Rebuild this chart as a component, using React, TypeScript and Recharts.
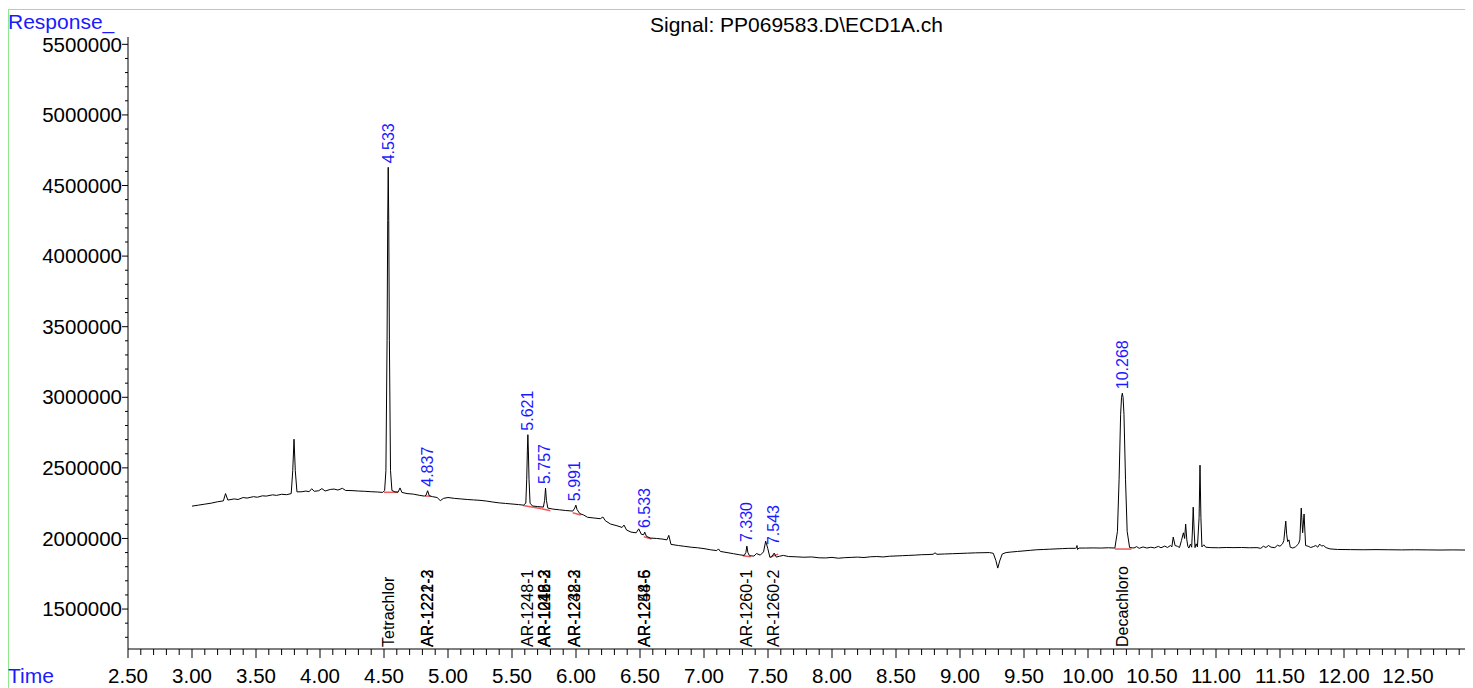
import React from "react";
import { ComposedChart, Line, Scatter, XAxis, YAxis, ReferenceLine } from "recharts";

const FONT = '"Liberation Sans", Arial, sans-serif';
const BLUE = "#1a1aff";

// signal trace, [retention time (min), response]
const trace3to45: [number, number][] = [
  [3.0, 2229000], [3.05, 2236000], [3.1, 2243000], [3.15, 2250000], [3.2, 2260000],
  [3.245, 2266000], [3.262, 2318000], [3.28, 2272000], [3.33, 2280000], [3.36, 2276000],
  [3.4, 2290000], [3.43, 2286000], [3.48, 2296000], [3.51, 2292000], [3.55, 2302000],
  [3.58, 2300000], [3.63, 2309000], [3.66, 2305000], [3.7, 2313000], [3.74, 2310000],
  [3.775, 2318000], [3.787, 2480000], [3.797, 2703000], [3.807, 2480000], [3.82, 2330000],
  [3.86, 2331000], [3.89, 2336000], [3.915, 2331000], [3.935, 2352000], [3.955, 2334000],
  [3.99, 2338000], [4.015, 2353000], [4.04, 2336000], [4.08, 2347000], [4.11, 2350000],
  [4.14, 2343000], [4.175, 2355000], [4.2, 2340000], [4.25, 2339000], [4.3, 2336000],
  [4.35, 2334000], [4.4, 2331000], [4.45, 2329000], [4.49, 2326000],
];

const trace45to6: [number, number][] = [
  [4.505, 2340000], [4.515, 2480000], [4.524, 3400000], [4.529, 4250000], [4.533, 4629000],
  [4.537, 4250000], [4.542, 3400000], [4.551, 2480000], [4.562, 2340000], [4.585, 2330000],
  [4.61, 2328000], [4.625, 2358000], [4.64, 2326000], [4.68, 2318000], [4.73, 2314000],
  [4.78, 2305000], [4.815, 2300000], [4.828, 2306000], [4.841, 2338000], [4.854, 2302000],
  [4.88, 2296000], [4.915, 2290000], [4.94, 2268000], [4.965, 2284000], [5.0, 2290000],
  [5.05, 2284000], [5.1, 2280000], [5.15, 2276000], [5.2, 2273000], [5.25, 2270000],
  [5.3, 2265000], [5.35, 2258000], [5.4, 2252000], [5.45, 2248000], [5.5, 2244000],
  [5.55, 2240000], [5.59, 2236000], [5.608, 2250000], [5.615, 2420000], [5.62, 2620000],
  [5.624, 2735000], [5.628, 2620000], [5.633, 2420000], [5.641, 2250000], [5.66, 2230000],
  [5.7, 2226000], [5.745, 2222000], [5.755, 2270000], [5.762, 2357000], [5.769, 2270000],
  [5.78, 2215000], [5.82, 2208000], [5.87, 2203000], [5.92, 2198000], [5.975, 2194000],
  [5.99, 2215000], [5.999, 2236000], [6.008, 2205000], [6.03, 2176000],
];

const trace6to8: [number, number][] = [
  [6.06, 2166000], [6.09, 2150000], [6.14, 2145000], [6.19, 2140000], [6.21, 2152000],
  [6.23, 2125000], [6.27, 2102000], [6.32, 2090000], [6.36, 2078000], [6.375, 2095000],
  [6.395, 2060000], [6.43, 2045000], [6.47, 2040000], [6.49, 2068000], [6.51, 2030000],
  [6.528, 2026000], [6.537, 2045000], [6.55, 2015000], [6.58, 2003000], [6.63, 2000000],
  [6.68, 1995000], [6.71, 1990000], [6.725, 2022000], [6.742, 1958000], [6.8, 1950000],
  [6.85, 1944000], [6.9, 1938000], [6.95, 1934000], [7.0, 1928000], [7.05, 1920000],
  [7.1, 1914000], [7.113, 1926000], [7.128, 1908000], [7.18, 1900000], [7.23, 1892000],
  [7.28, 1884000], [7.315, 1880000], [7.327, 1900000], [7.335, 1946000], [7.343, 1900000],
  [7.355, 1878000], [7.39, 1875000], [7.41, 1893000], [7.44, 1882000], [7.465, 1905000],
  [7.482, 1981000], [7.498, 1930000], [7.515, 1866000], [7.53, 1870000], [7.548, 1896000],
  [7.565, 1868000], [7.59, 1874000], [7.62, 1880000], [7.66, 1872000], [7.72, 1870000],
  [7.78, 1867000], [7.84, 1869000], [7.9, 1863000], [7.95, 1862000],
];

const trace8to10: [number, number][] = [
  [8.0, 1866000], [8.05, 1860000], [8.1, 1864000], [8.15, 1866000], [8.2, 1868000],
  [8.25, 1865000], [8.3, 1870000], [8.35, 1872000], [8.4, 1869000], [8.45, 1874000],
  [8.5, 1876000], [8.55, 1878000], [8.6, 1880000], [8.65, 1882000], [8.7, 1885000],
  [8.75, 1886000], [8.79, 1888000], [8.805, 1898000], [8.82, 1888000], [8.88, 1890000],
  [8.94, 1892000], [9.0, 1894000], [9.06, 1896000], [9.12, 1898000], [9.18, 1899000],
  [9.23, 1900000], [9.26, 1895000], [9.28, 1845000], [9.295, 1790000], [9.31, 1840000],
  [9.33, 1890000], [9.36, 1900000], [9.4, 1904000], [9.45, 1908000], [9.5, 1912000],
  [9.55, 1916000], [9.6, 1920000], [9.65, 1922000], [9.7, 1924000], [9.75, 1926000],
  [9.8, 1928000], [9.85, 1930000], [9.9, 1930000], [9.91, 1935000], [9.914, 1950000],
  [9.918, 1922000], [9.93, 1932000], [9.98, 1932000], [10.04, 1933000], [10.1, 1932000],
  [10.16, 1934000], [10.21, 1932000], [10.23, 2050000], [10.243, 2420000], [10.255, 2880000],
  [10.262, 3000000], [10.268, 3029000], [10.274, 3000000], [10.281, 2880000], [10.293, 2420000],
  [10.306, 2050000], [10.325, 1936000], [10.35, 1933000],
];

const trace10to13: [number, number][] = [
  [10.36, 1933000], [10.38, 1942000], [10.4, 1930000], [10.43, 1940000], [10.46, 1932000],
  [10.49, 1938000], [10.52, 1933000], [10.55, 1944000], [10.57, 1934000], [10.6, 1946000],
  [10.62, 1936000], [10.645, 1950000], [10.655, 1940000], [10.666, 2010000], [10.68, 1950000],
  [10.7, 1944000], [10.715, 1936000], [10.73, 1985000], [10.745, 2040000], [10.755, 2000000],
  [10.763, 2102000], [10.772, 1990000], [10.78, 1945000], [10.788, 1932000], [10.8, 1960000],
  [10.81, 1938000], [10.816, 2060000], [10.822, 2222000], [10.829, 2060000], [10.836, 1935000],
  [10.845, 1962000], [10.855, 1940000], [10.868, 2150000], [10.875, 2519000], [10.882, 2150000],
  [10.89, 1940000], [10.905, 1955000], [10.92, 1938000], [10.96, 1935000], [11.02, 1934000],
  [11.08, 1936000], [11.14, 1935000], [11.2, 1936000], [11.26, 1934000], [11.32, 1935000],
  [11.35, 1930000], [11.37, 1945000], [11.39, 1936000], [11.41, 1950000], [11.43, 1938000],
  [11.46, 1935000], [11.48, 1952000], [11.5, 1945000], [11.52, 1962000], [11.53, 1985000],
  [11.538, 2060000], [11.545, 2123000], [11.552, 2030000], [11.56, 1978000], [11.57, 1990000],
  [11.58, 1938000], [11.6, 1932000], [11.62, 1940000], [11.645, 1962000], [11.655, 1990000],
  [11.666, 2215000], [11.677, 2040000], [11.688, 2173000], [11.7, 1950000], [11.72, 1945000],
  [11.74, 1936000], [11.76, 1942000], [11.78, 1950000], [11.795, 1938000], [11.81, 1960000],
  [11.825, 1946000], [11.84, 1950000], [11.86, 1935000], [11.89, 1926000], [11.95, 1922000],
  [12.05, 1921000], [12.15, 1920000], [12.25, 1921000], [12.35, 1920000], [12.45, 1919000],
  [12.55, 1920000], [12.65, 1919000], [12.75, 1918000], [12.85, 1919000], [12.95, 1918000],
  [13.0, 1918000],
];

// integrated peaks: retention time label and apex response
const peakTimes = [4.533, 4.837, 5.621, 5.757, 5.991, 6.533, 7.33, 7.543, 10.268];
const peakTops = [4629000, 2338000, 2735000, 2357000, 2236000, 2045000, 1946000, 1925000, 3029000];

// compound names printed at the foot of each peak (several overlap at one time)
const compoundTimes = [4.533, 4.837, 5.621, 5.757, 5.991, 6.533, 7.33, 7.543, 10.268];
const compoundNames = [
  ["Tetrachlor"],
  ["AR-1221-3", "AR-1222-2"],
  ["AR-1248-1"],
  ["AR-1016-2", "AR-1242-3", "AR-1248-2"],
  ["AR-1232-3", "AR-1248-2"],
  ["AR-1248-5", "AR-1254-6"],
  ["AR-1260-1"],
  ["AR-1260-2"],
  ["Decachloro"],
];

// integration baselines: [start t, start response, end t, end response]
const baselines: [number, number, number, number][] = [
  [4.5, 2327000, 4.61, 2327000],
  [4.82, 2300000, 4.865, 2300000],
  [5.588, 2234000, 5.732, 2210000],
  [5.732, 2210000, 5.8, 2196000],
  [5.974, 2182000, 6.037, 2166000],
  [6.53, 2012000, 6.59, 1996000],
  [7.302, 1878000, 7.365, 1871000],
  [7.521, 1871000, 7.58, 1889000],
  [10.21, 1925000, 10.34, 1925000],
];

const xMajorTicks = [2.5, 3, 3.5, 4, 4.5, 5, 5.5, 6, 6.5, 7, 7.5, 8, 8.5, 9, 9.5, 10, 10.5, 11, 11.5, 12, 12.5];
const yMajorTicks = [1500000, 2000000, 2500000, 3000000, 3500000, 4000000, 4500000, 5000000, 5500000];

const X_DOMAIN: [number, number] = [2.5, 13.0];
const Y_DOMAIN: [number, number] = [1217000, 5552000];

const xTicks = Array.from({ length: 105 }, (_, i) => Math.round(25 + i) / 10);
const yTicks = Array.from({ length: 43 }, (_, i) => 1300000 + i * 100000);

const traceRows = [...trace3to45, ...trace45to6, ...trace6to8, ...trace8to10, ...trace10to13].map(
  ([t, v]) => ({ t, v })
);
const peakRows = peakTimes.map((t, i) => ({ t, v: peakTops[i], label: t.toFixed(3) }));
const compoundRows = compoundTimes.map((t, i) => ({ t, v: Y_DOMAIN[0], names: compoundNames[i] }));

function XTick(props: any) {
  const { x, y, payload } = props;
  const major = xMajorTicks.includes(payload.value);
  return (
    <g>
      <line x1={x} x2={x} y1={y} y2={y + (major ? 9 : 6)} stroke="#000" />
      {major && (
        <text x={x} y={y + 34} textAnchor="middle" fontSize={20.5} fontFamily={FONT} fill="#000">
          {payload.value.toFixed(2)}
        </text>
      )}
    </g>
  );
}

function YTick(props: any) {
  const { x, y, payload } = props;
  const major = yMajorTicks.includes(payload.value);
  return (
    <g>
      <line x1={x - (major ? 6 : 3)} x2={x} y1={y} y2={y} stroke="#000" />
      {major && (
        <text x={x - 6} y={y} dy="0.35em" textAnchor="end" fontSize={20.5} fontFamily={FONT} fill="#000">
          {payload.value}
        </text>
      )}
    </g>
  );
}

function PeakLabel(props: any) {
  const { cx, cy, payload } = props;
  const y = cy - 4;
  return (
    <text
      x={cx}
      y={y}
      dy="0.35em"
      transform={`rotate(-90 ${cx} ${y})`}
      fontSize={16}
      fontFamily={FONT}
      fill={BLUE}
    >
      {payload.label}
    </text>
  );
}

function CompoundLabel(props: any) {
  const { cx, cy, payload } = props;
  const y = cy - 2;
  return (
    <g>
      {payload.names.map((name: string) => (
        <text
          key={name}
          x={cx}
          y={y}
          dy="0.35em"
          transform={`rotate(-90 ${cx} ${y})`}
          fontSize={16}
          fontFamily={FONT}
          fill="#000"
        >
          {name}
        </text>
      ))}
    </g>
  );
}

export default function App() {
  return (
    <div style={{ position: "relative", width: 1465, height: 680, fontFamily: FONT }}>
      <div
        style={{
          position: "absolute",
          top: 1,
          left: 0,
          right: 0,
          bottom: 0,
          borderTop: "1px solid #8ee88e",
          borderLeft: "1px solid #8ee88e",
        }}
      />
      <ComposedChart
        width={1465}
        height={680}
        data={traceRows}
        margin={{ top: 29, right: 1, bottom: 0, left: 0 }}
      >
        <XAxis
          dataKey="t"
          type="number"
          domain={X_DOMAIN}
          ticks={xTicks}
          interval={0}
          height={39}
          tickSize={0}
          tickMargin={0}
          tickLine={false}
          axisLine={{ stroke: "#000" }}
          tick={XTick}
          allowDataOverflow
        />
        <YAxis
          type="number"
          domain={Y_DOMAIN}
          ticks={yTicks}
          interval={0}
          width={120}
          tickSize={0}
          tickMargin={0}
          tickLine={false}
          axisLine={{ stroke: "#000" }}
          tick={YTick}
          allowDataOverflow
        />
        {baselines.map(([t1, v1, t2, v2], i) => (
          <ReferenceLine
            key={i}
            segment={[{ x: t1, y: v1 }, { x: t2, y: v2 }]}
            stroke="#f05a5a"
            strokeWidth={1.5}
            ifOverflow="visible"
          />
        ))}
        <Line
          type="linear"
          dataKey="v"
          stroke="#000"
          strokeWidth={1}
          dot={false}
          isAnimationActive={false}
        />
        <Scatter data={peakRows} dataKey="v" shape={PeakLabel} isAnimationActive={false} />
        <Scatter data={compoundRows} dataKey="v" shape={CompoundLabel} isAnimationActive={false} />
      </ComposedChart>
      <svg
        width={1465}
        height={680}
        style={{ position: "absolute", top: 0, left: 0, pointerEvents: "none" }}
      >
        <text x={0} y={21} fontSize={21} fontFamily={FONT} fill={BLUE}>
          Response_
        </text>
        <text x={642} y={24} fontSize={21} fontFamily={FONT} fill="#000">
          {"Signal: PP069583.D\\ECD1A.ch"}
        </text>
        <text x={0} y={675} fontSize={21} fontFamily={FONT} fill={BLUE}>
          Time
        </text>
      </svg>
    </div>
  );
}
